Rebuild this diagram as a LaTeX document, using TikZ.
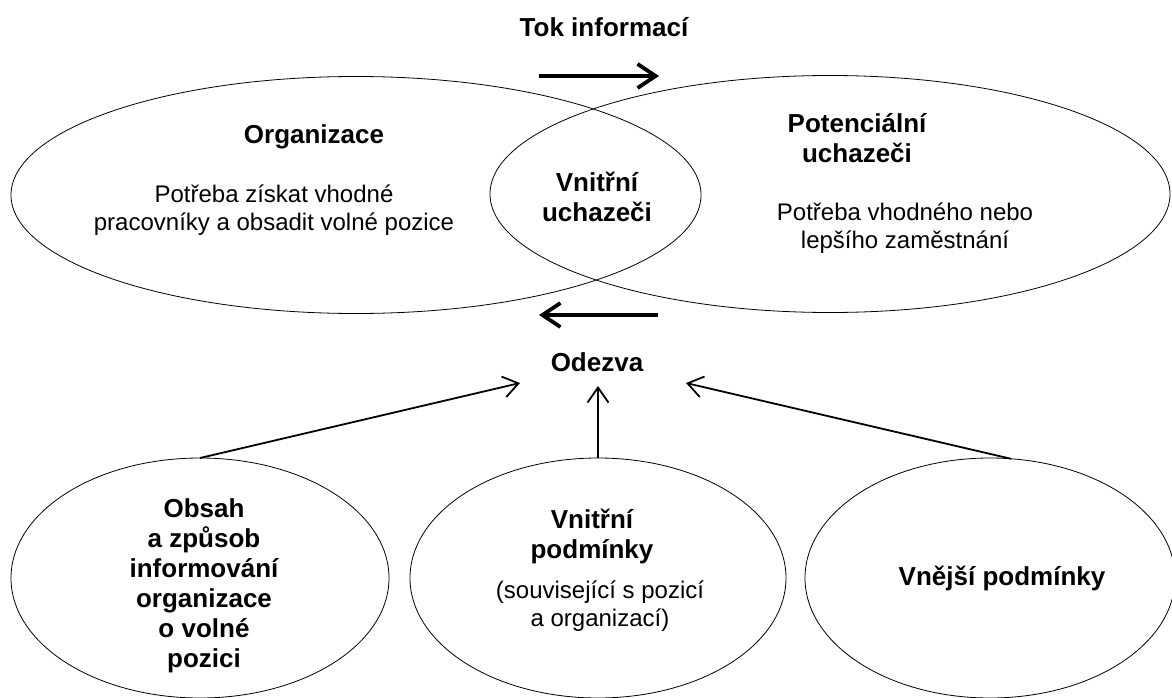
\documentclass[tikz,border=0pt]{standalone}
\usepackage{fontspec}
\setmainfont{Liberation Sans}
\usetikzlibrary{shapes.geometric,arrows.meta}
\begin{document}
\begin{tikzpicture}[x=1pt,y=-1pt,
  oval/.style={draw, ellipse, line width=0.8pt, inner sep=0pt, outer sep=0pt},
  boldtxt/.style={font=\fontsize{26}{30}\selectfont\bfseries, align=center, inner sep=0pt},
  plaintxt/.style={font=\fontsize{24}{27.5}\selectfont, align=center, inner sep=0pt},
  bigarrow/.style={line width=3.8pt, -{Straight Barb[length=18pt,width=24pt]}},
  smallarrow/.style={line width=1.8pt, -{Straight Barb[length=15pt,width=21pt]}},
]
\useasboundingbox (0,0) rectangle (1172,698);

% top ellipses
\node[oval, minimum width=690pt, minimum height=237pt] (org) at (356,195) {};
\node[oval, minimum width=680pt, minimum height=237pt] (pot) at (830,194) {};

% top texts
\node[boldtxt] (tok) at (604,27) {Tok informací};
\node[boldtxt] (orgt) at (314,137) {Organizace};
\node[plaintxt] (orgd) at (274,210) {Potřeba získat vhodné\\pracovníky a obsadit volné pozice};
\node[boldtxt] (vnu) at (597,197) {Vnitřní\\uchazeči};
\node[boldtxt] (pott) at (857,138) {Potenciální\\uchazeči};
\node[plaintxt] (potd) at (905,228) {Potřeba vhodného nebo\\lepšího zaměstnání};

% flow arrows
\coordinate (tokA) at (539,76);
\coordinate (tokB) at (659,76);
\draw[bigarrow] (tokA) -- (tokB);
\coordinate (odA) at (658,315);
\coordinate (odB) at (539,315);
\draw[bigarrow] (odA) -- (odB);

\node[boldtxt] (odezva) at (597,362) {Odezva};

% bottom ellipses
\node[oval, minimum width=378pt, minimum height=240pt] (obs) at (200,578) {};
\node[oval, minimum width=376pt, minimum height=240pt] (vnp) at (598,578) {};
\node[oval, minimum width=370pt, minimum height=240pt] (vejp) at (990,578) {};

\node[boldtxt] (obst) at (204,586) {Obsah\\a způsob\\informování\\organizace\\o volné\\pozici};
\node[boldtxt] (vnpt) at (592,536) {Vnitřní\\podmínky};
\node[plaintxt] (vnpd) at (600,606) {(související s pozicí\\a organizací)};
\node[boldtxt] (vejpt) at (1002,578) {Vnější podmínky};

\coordinate (e1) at (520,383);
\coordinate (e2) at (598,386);
\coordinate (e3) at (686,383);
\draw[smallarrow] (obs.north) -- (e1);
\draw[smallarrow] (vnp.north) -- (e2);
\draw[smallarrow] (vejp.80) -- (e3);
\end{tikzpicture}
\end{document}
